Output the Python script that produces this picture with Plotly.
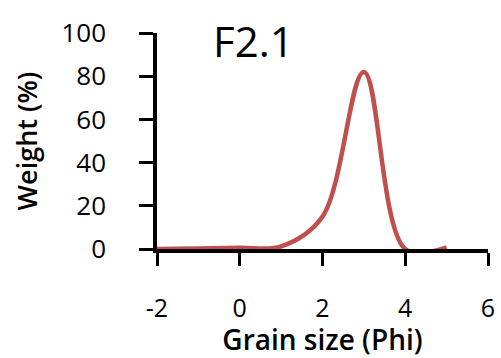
import plotly.graph_objects as go

grain_phi = [-2, -1, 0, 1, 2, 3, 4, 5]
weight_pct = [0, 0.2, 0.6, 1.2, 15, 82, 0, 0.8]
x_ticks = [-2, 0, 2, 4, 6]
x_tick_text = ["-2", "0", "2", "4", "6"]
y_ticks = [0, 20, 40, 60, 80, 100]
sample = "F2.1"

FONT = "Open Sans"

fig = go.Figure()
fig.add_trace(go.Scatter(
    x=grain_phi, y=weight_pct, mode="lines",
    line=dict(color="#C0504D", width=4.5, shape="spline", smoothing=1),
    showlegend=False, hoverinfo="skip",
))

fig.add_annotation(
    text=sample, x=0.293, y=0.963, xref="paper", yref="paper",
    xanchor="center", yanchor="middle", showarrow=False,
    font=dict(family=FONT, size=42, color="black"),
)

fig.update_layout(
    template="none",
    width=501, height=358,
    margin=dict(l=157, r=13, t=33, b=109),
    paper_bgcolor="white", plot_bgcolor="white",
    font=dict(family=FONT, color="black"),
)
fig.update_xaxes(
    range=[-2, 6], tickvals=x_ticks, ticktext=x_tick_text,
    ticks="outside", ticklen=13, tickwidth=3,
    tickcolor="black", showline=True, linecolor="black", linewidth=3.5,
    showgrid=False, zeroline=False, layer="below traces", automargin=False,
    tickfont=dict(family=FONT, size=25), ticklabelstandoff=21,
    title=dict(text="Grain size (Phi)", font=dict(family=FONT, size=28, weight=600), standoff=11),
)
fig.update_yaxes(
    range=[0, 100], tickvals=y_ticks, ticks="outside", ticklen=14, tickwidth=3,
    tickcolor="black", showline=True, linecolor="black", linewidth=3.5,
    showgrid=False, zeroline=False, layer="below traces", automargin=False,
    tickfont=dict(family=FONT, size=26), ticklabelstandoff=28,
    title=dict(text="Weight (%)", font=dict(family=FONT, size=27, weight=600), standoff=17),
)

fig.write_html("out.html", config={"displayModeBar": False},
               post_script="document.body.style.margin='0';")
